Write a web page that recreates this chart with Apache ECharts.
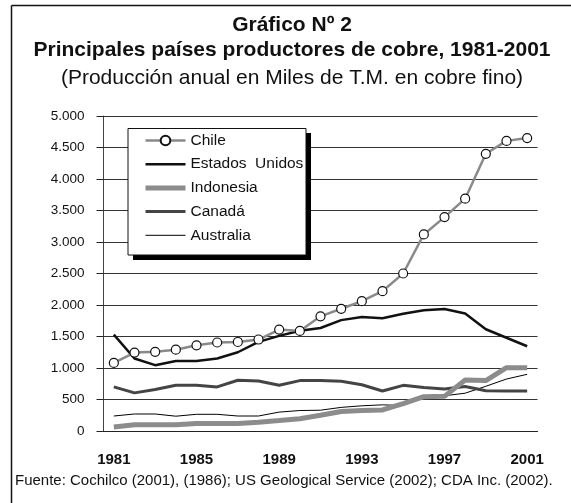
<!DOCTYPE html>
<html>
<head>
<meta charset="utf-8">
<title>Gráfico Nº 2</title>
<script src="https://cdn.jsdelivr.net/npm/echarts@6/dist/echarts.min.js"></script>
<style>
  html, body { margin: 0; padding: 0; background: #fff; }
  #chart { width: 571px; height: 503px; }
</style>
</head>
<body>
<div id="chart"></div>
<script>
const years = ['1981', '1982', '1983', '1984', '1985', '1986', '1987', '1988', '1989', '1990',
  '1991', '1992', '1993', '1994', '1995', '1996', '1997', '1998', '1999', '2000', '2001'];
const chile = [1080, 1245, 1257, 1291, 1360, 1405, 1413, 1452, 1610, 1588, 1820, 1940, 2060, 2220, 2500, 3120, 3395, 3688, 4400, 4605, 4650];
const usa = [1530, 1150, 1045, 1110, 1110, 1150, 1250, 1415, 1510, 1590, 1635, 1760, 1810, 1790, 1860, 1915, 1935, 1865, 1615, 1480, 1345];
const indonesia = [65, 100, 100, 100, 120, 120, 120, 140, 165, 195, 250, 310, 325, 335, 435, 545, 550, 810, 800, 1005, 1005];
const canada = [700, 605, 660, 725, 725, 700, 805, 795, 725, 800, 800, 790, 735, 635, 725, 690, 665, 705, 640, 635, 635];
const australia = [238, 270, 270, 235, 265, 265, 238, 238, 300, 325, 330, 375, 400, 415, 405, 540, 560, 600, 710, 825, 900];
const yTicks = [0, 500, 1000, 1500, 2000, 2500, 3000, 3500, 4000, 4500, 5000];

const font = '"Liberation Sans", Arial, sans-serif';

function miles(v) {
  return String(v).replace(/\B(?=(\d{3})+(?!\d))/g, '.');
}

// hide the marker in the legend icon of the plain lines
const noMark = {opacity: 0};

let chart = echarts.init(document.getElementById('chart'));
chart.setOption({
  backgroundColor: '#fff',
  animation: false,
  textStyle: {fontFamily: font},
  graphic: [
    {type: 'line', shape: {x1: 11.5, y1: 5.5, x2: 571, y2: 5.5}, style: {stroke: '#111', lineWidth: 1.5}},
    {type: 'line', shape: {x1: 11.5, y1: 5.5, x2: 11.5, y2: 503}, style: {stroke: '#111', lineWidth: 1.5}},
    {type: 'text', x: 292, y: 25, style: {text: 'Gráfico Nº 2', fill: '#111', font: 'bold 21px ' + font, textAlign: 'center', textVerticalAlign: 'middle'}},
    {type: 'text', x: 292, y: 50.5, style: {text: 'Principales países productores de cobre, 1981-2001', fill: '#111', font: 'bold 21px ' + font, textAlign: 'center', textVerticalAlign: 'middle'}},
    {type: 'text', x: 292, y: 78.5, style: {text: '(Producción anual en Miles de T.M. en cobre fino)', fill: '#111', font: '21px ' + font, textAlign: 'center', textVerticalAlign: 'middle'}},
    {type: 'text', x: 15, y: 481, style: {text: 'Fuente: Cochilco (2001), (1986); US Geological Service (2002); CDA Inc. (2002).', fill: '#111', font: '15px ' + font, textAlign: 'left', textVerticalAlign: 'middle'}},
    // legend frame with its hard shadow
    {type: 'rect', z: 3, shape: {x: 133, y: 133, width: 178, height: 127}, style: {fill: '#000'}},
    {type: 'rect', z: 3, shape: {x: 128, y: 128.5, width: 178, height: 126.5}, style: {fill: '#fff', stroke: '#111', lineWidth: 1}}
  ],
  legend: {
    orient: 'vertical',
    left: 128,
    top: 128,
    z: 5,
    padding: [4.5, 8, 11.5, 15],
    itemWidth: 40,
    itemHeight: 12,
    itemGap: 7.7,
    textStyle: {fontSize: 15.5, lineHeight: 16, color: '#111', fontFamily: font},
    data: [
      {name: 'Chile', lineStyle: {width: 2.5}},
      {name: 'Estados  Unidos', itemStyle: noMark, lineStyle: {width: 2.5}},
      {name: 'Indonesia', itemStyle: noMark, lineStyle: {width: 5}},
      {name: 'Canadá', itemStyle: noMark, lineStyle: {width: 3}},
      {name: 'Australia', itemStyle: noMark, lineStyle: {width: 1}}
    ]
  },
  grid: {left: 103.5, top: 116, width: 434, height: 315, containLabel: false},
  xAxis: {
    type: 'category',
    data: years,
    boundaryGap: true,
    axisLine: {lineStyle: {color: '#222', width: 1}},
    axisTick: {interval: 1, length: 5, lineStyle: {color: '#222'}},
    axisLabel: {
      interval: 3,
      margin: 21,
      color: '#111',
      fontSize: 15,
      fontWeight: 'bold',
      fontFamily: '"Liberation Sans Narrow", "Liberation Sans", sans-serif'
    }
  },
  yAxis: {
    type: 'value',
    min: yTicks[0],
    max: yTicks[yTicks.length - 1],
    interval: 500,
    axisLine: {show: true, lineStyle: {color: '#444'}},
    axisTick: {show: true, length: 7, lineStyle: {color: '#222'}},
    splitLine: {lineStyle: {color: '#333', width: 1}},
    axisLabel: {margin: 19, color: '#111', fontSize: 13.5, formatter: miles}
  },
  series: [
    {
      name: 'Australia', type: 'line', data: australia, z: 2,
      symbol: 'none', lineStyle: {color: '#000', width: 1}, itemStyle: {color: '#000'}
    },
    {
      name: 'Canadá', type: 'line', data: canada, z: 2,
      symbol: 'none', lineStyle: {color: '#444', width: 3}, itemStyle: {color: '#444'}
    },
    {
      name: 'Indonesia', type: 'line', data: indonesia, z: 2,
      symbol: 'none', lineStyle: {color: '#8c8c8c', width: 5}, itemStyle: {color: '#8c8c8c'}
    },
    {
      name: 'Estados  Unidos', type: 'line', data: usa, z: 2,
      symbol: 'none', lineStyle: {color: '#111', width: 2.5}, itemStyle: {color: '#111'}
    },
    {
      name: 'Chile', type: 'line', data: chile, z: 2,
      symbol: 'circle', symbolSize: 9,
      lineStyle: {color: '#8a8a8a', width: 2.5},
      itemStyle: {color: '#fff', borderColor: '#111', borderWidth: 1.2}
    }
  ]
});
</script>
</body>
</html>
